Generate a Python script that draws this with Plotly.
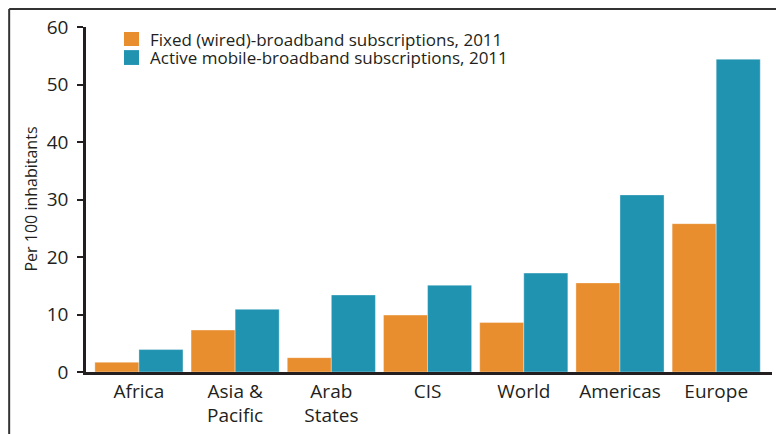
import plotly.graph_objects as go

# Values (per 100 inhabitants)
regions = ["Africa", "Asia &<br>Pacific", "Arab<br>States", "CIS", "World", "Americas", "Europe"]
fixed_2011 = [1.7, 7.3, 2.5, 9.9, 8.6, 15.5, 25.8]
mobile_2011 = [3.9, 10.9, 13.4, 15.1, 17.2, 30.8, 54.4]
series_names = ["Fixed (wired)-broadband subscriptions, 2011",
                "Active mobile-broadband subscriptions, 2011"]

ORANGE = "#E88E2F"
BLUE = "#2093B1"
INK = "#231F20"
FONT = "Open Sans, Noto Sans, sans-serif"

fig = go.Figure()
for name, vals, color in zip(series_names, [fixed_2011, mobile_2011], [ORANGE, BLUE]):
    fig.add_trace(go.Bar(
        x=regions, y=vals, name=name,
        marker=dict(color=color, line=dict(color="rgba(255,255,255,0.6)", width=0.6)),
    ))

# outer frame (top and left edges of the figure box)
frame = dict(type="line", xref="paper", yref="paper", line=dict(color="#333333", width=2))
shapes = [
    dict(frame, x0=-0.112, x1=1.2, y0=1.052, y1=1.052),
    dict(frame, x0=-0.112, x1=-0.112, y0=1.052, y1=-0.3),
]

# hand-placed legend (tight rows like the original)
annotations = []
legend_rows = [(0.945, 0.9855, 0.965), (0.890, 0.933, 0.912)]
for name, color, (y0, y1, yc) in zip(series_names, [ORANGE, BLUE], legend_rows):
    shapes.append(dict(type="rect", xref="paper", yref="paper", x0=0.0554, x1=0.0773,
                       y0=y0, y1=y1, fillcolor=color, line=dict(width=0)))
    annotations.append(dict(text=name, xref="paper", yref="paper", x=0.0904, y=yc,
                            xanchor="left", yanchor="middle", showarrow=False,
                            font=dict(size=17, color=INK)))

annotations.append(dict(text="Per 100 inhabitants", xref="paper", yref="paper",
                        x=-0.0816, y=0.5, textangle=-90, showarrow=False,
                        xanchor="center", yanchor="middle", font=dict(size=16, color=INK)))

fig.update_layout(
    width=776, height=426,
    margin=dict(l=78, r=12, t=19, b=62),
    paper_bgcolor="white", plot_bgcolor="white",
    barmode="group", bargap=0.084, bargroupgap=0,
    font=dict(family=FONT, color=INK, size=17),
    showlegend=False,
    shapes=shapes,
    annotations=annotations,
)
fig.update_xaxes(
    range=[-0.55, 6.58], showline=True, linecolor=INK, linewidth=2.5,
    ticks="", showgrid=False, tickfont=dict(size=19, color=INK), automargin=False,
)
fig.update_yaxes(
    range=[0, 60], dtick=10, showline=True, linecolor=INK, linewidth=2.5,
    ticks="outside", ticklen=6, tickwidth=1.5, tickcolor=INK, showgrid=False,
    zeroline=False, tickfont=dict(size=19, color=INK), ticklabelstandoff=5,
    automargin=False,
)

fig.write_html("out.html")
